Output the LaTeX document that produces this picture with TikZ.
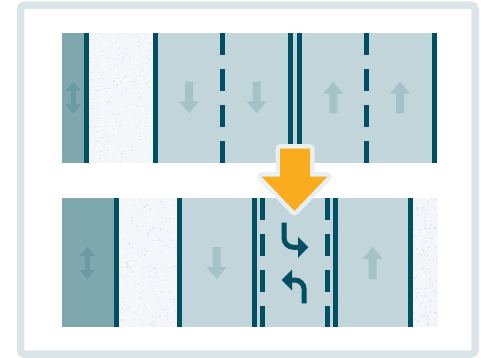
\documentclass[tikz,border=0pt]{standalone}
\begin{document}
\definecolor{framec}{HTML}{DBE5E9}
\definecolor{lanec}{HTML}{C1D5DA}
\definecolor{walkc}{HTML}{7FA7AE}
\definecolor{linec}{HTML}{014F62}
\definecolor{larrc}{HTML}{A5C2C8}
\definecolor{darrc}{HTML}{6A9AA3}
\definecolor{orangec}{HTML}{F9AC1D}
\definecolor{outlc}{HTML}{E9F0F2}
\definecolor{speckc}{HTML}{F4F6FA}
\definecolor{sa}{HTML}{E4E8F4}
\definecolor{sb}{HTML}{E6F4F5}
\definecolor{sc}{HTML}{F4E8EF}
\definecolor{sd}{HTML}{DFE8F0}
\pgfmathdeclarerandomlist{speckcols}{{sa}{sb}{sc}{sd}}
\newcommand\speckle[4]{%
  \fill[speckc] (#1,#2) rectangle (#3,#4);
  \foreach \k in {1,...,260}{%
    \pgfmathsetmacro\rx{#1+rnd*(#3-#1-1.3)}%
    \pgfmathsetmacro\ry{#2+rnd*(#4-#2-1.3)}%
    \pgfmathrandomitem\cc{speckcols}%
    \fill[\cc] (\rx,\ry) rectangle +(1.4,1.4);}%
}
% down arrow: x, ytop, ybottom
\newcommand\downarr[3]{\fill[larrc] (#1-4,#2) -- (#1+4,#2) -- (#1+4,#3-12) -- (#1+10,#3-12) -- (#1,#3) -- (#1-10,#3-12) -- (#1-4,#3-12) -- cycle;}
\newcommand\uparr[3]{\fill[larrc] (#1-4,#3) -- (#1+4,#3) -- (#1+4,#2+12) -- (#1+10,#2+12) -- (#1,#2) -- (#1-10,#2+12) -- (#1-4,#2+12) -- cycle;}
\newcommand\bothar[3]{\fill[darrc] (#1,#2) -- (#1+8,#2+9) -- (#1+2.5,#2+9) -- (#1+2.5,#3-9) -- (#1+8,#3-9) -- (#1,#3) -- (#1-8,#3-9) -- (#1-2.5,#3-9) -- (#1-2.5,#2+9) -- (#1-8,#2+9) -- cycle;}
\begin{tikzpicture}[x=1pt,y=-1pt,
  solidl/.style={draw=linec,line width=5pt},
  dashl/.style={draw=linec,line width=5pt,dash pattern=on 22pt off 14pt},
  turnl/.style={draw=linec,line width=5pt}]
\useasboundingbox (0,0) rectangle (489,357);
\pgfmathsetseed{7}
% frame
\draw[framec,line width=7.5pt,rounded corners=4pt] (20.5,5) rectangle (475,354);
% ---------- top road ----------
\fill[walkc] (62,32.7) rectangle (86,162.7);
\speckle{88}{32.7}{155}{162.7}
\fill[lanec] (155,32.7) rectangle (437,162.7);
\draw[solidl] (86.5,32.7) -- (86.5,162.7);
\draw[solidl] (155,32.7) -- (155,162.7);
\draw[dashl] (222.8,32.7) -- (222.8,162.7);
\draw[solidl] (290.7,32.7) -- (290.7,162.7);
\draw[solidl] (299.2,32.7) -- (299.2,162.7);
\draw[dashl] (366.7,32.7) -- (366.7,162.7);
\draw[solidl] (434.2,32.7) -- (434.2,162.7);
\bothar{73.3}{81.7}{113.3}
\downarr{189}{81.7}{113.3}
\downarr{256.7}{81.7}{113.3}
\uparr{333.3}{81.7}{113.3}
\uparr{400}{81.7}{113.3}
% ---------- bottom road ----------
\fill[walkc] (62,198.3) rectangle (116,327.3);
\speckle{116}{198.3}{180}{327.3}
\speckle{410}{198.3}{437.7}{327.3}
\fill[lanec] (179.5,198.3) rectangle (410.2,327.3);
\draw[solidl] (116.2,198.3) -- (116.2,327.3);
\draw[solidl] (179.5,198.3) -- (179.5,327.3);
\draw[solidl] (254.2,198.3) -- (254.2,327.3);
\draw[dashl] (262.5,198.3) -- (262.5,327.3);
\draw[dashl] (327.5,198.3) -- (327.5,327.3);
\draw[solidl] (335.8,198.3) -- (335.8,327.3);
\draw[solidl] (410.2,198.3) -- (410.2,327.3);
\bothar{87.3}{247}{279}
\downarr{216.7}{247}{279}
\uparr{372.7}{247}{279}
% ---------- orange arrow ----------
\path[fill=outlc,draw=outlc,line width=9pt,line join=round]
  (280,148.5) -- (310,148.5) -- (310,176.7) -- (327.3,176.7) -- (294.5,211) -- (261.7,176.7) -- (280,176.7) -- cycle;
\fill[orangec]
  (280,148.5) -- (310,148.5) -- (310,176.7) -- (327.3,176.7) -- (294.5,211) -- (261.7,176.7) -- (280,176.7) -- cycle;
% ---------- turn arrows ----------
\draw[turnl] (284,222.7) -- (284,238) arc[start angle=180,end angle=90,radius=9.3] -- (299,247.3);
\fill[linec] (298,236.8) -- (308.3,247.3) -- (298,257.8) -- cycle;
\draw[turnl] (304.2,303.3) -- (304.2,289.5) arc[start angle=0,end angle=-90,radius=9.5] -- (291,280);
\fill[linec] (292,269.5) -- (281.7,280) -- (292,290.5) -- cycle;
\end{tikzpicture}
\end{document}
